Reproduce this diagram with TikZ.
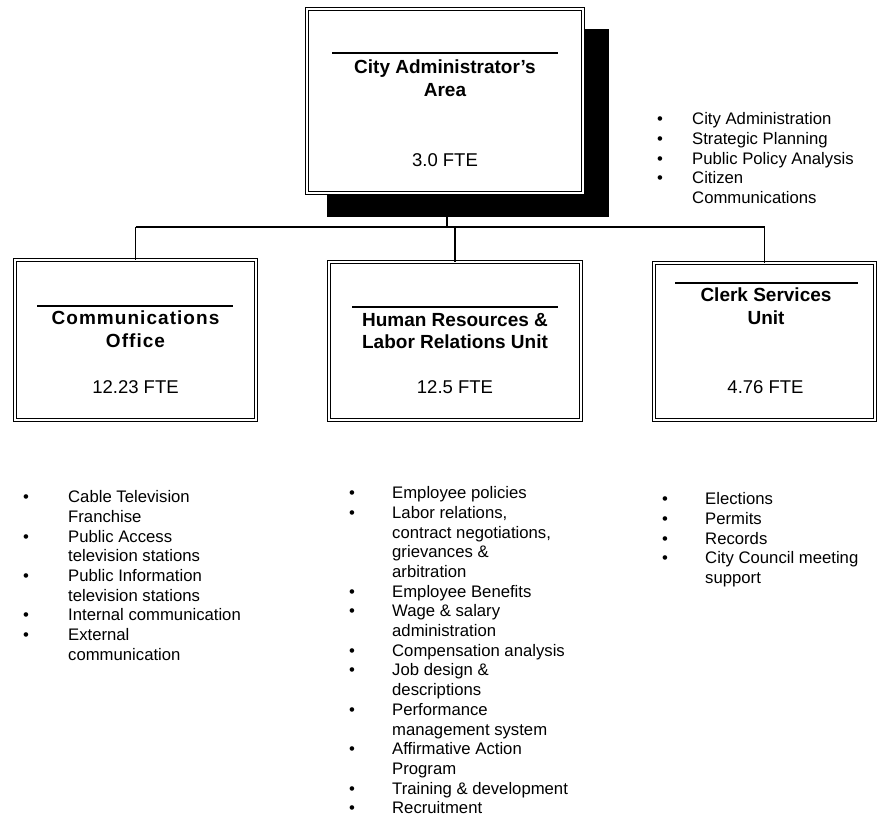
\documentclass[tikz,border=0pt]{standalone}
\usepackage{fontspec}
\setmainfont{Liberation Sans}
\usepackage{tikz}
\usetikzlibrary{positioning,calc}

\begin{document}
\begin{tikzpicture}[x=1pt,y=-1pt,
  unitbox/.style={draw,fill=white,line width=1pt,double,double distance=2.4pt,inner sep=0pt},
  shadowbox/.style={fill=black,inner sep=0pt},
  unitname/.style={font=\fontsize{19}{22.5}\selectfont\bfseries,align=center,inner sep=0pt,anchor=north},
  ftetext/.style={font=\fontsize{18.5}{22}\selectfont,inner sep=0pt},
  duties/.style={font=\fontsize{16.7}{19.7}\selectfont,inner sep=0pt,anchor=north west},
  rulebar/.style={line width=1.2pt},
  link/.style={line width=1.2pt}]
  \fill[white] (0,0) rectangle (878,827);
  \useasboundingbox (0,0) rectangle (878,827);
  % top box and its shadow
  \node[shadowbox,minimum width=282pt,minimum height=188pt] (cityshadow) at (468,122.5) {};
  \node[unitbox,minimum width=275.6pt,minimum height=183.6pt] (city) at (445,101) {};
  \draw[rulebar] (332,53) -- (558,53);
  \node[unitname] (citytitle) at (445,60) {City Administrator's\\Area};
  \node[ftetext] (citycount) at (445,160) {3.0 FTE};
  % three units
  \node[unitbox,minimum width=240.6pt,minimum height=159.6pt] (comm) at (135.5,340) {};
  \node[unitbox,minimum width=251.6pt,minimum height=157.6pt] (hr) at (455,341) {};
  \node[unitbox,minimum width=220.6pt,minimum height=156.6pt] (clerk) at (764.5,341.5) {};
  \draw[rulebar] (37,306) -- (233,306);
  \draw[rulebar] (352,307) -- (558,307);
  \draw[rulebar] (675,283) -- (858,283);
  \node[unitname] (commtitle) at (135.5,311) {\addfontfeature{LetterSpace=5.5}Communications\\\addfontfeature{LetterSpace=5.5}Office};
  \node[unitname] (hrtitle) at (455,313) {Human Resources \&\\Labor Relations Unit};
  \node[unitname] (clerktitle) at (766,288) {Clerk Services\\Unit};
  \node[ftetext] (commcount) at (135.5,387) {12.23 FTE};
  \node[ftetext] (hrcount) at (455,387) {12.5 FTE};
  \node[ftetext] (clerkcount) at (765.5,387) {4.76 FTE};
  % connectors
  \coordinate (bus) at (0,227);
  \draw[link] (comm.north |- bus) -- (clerk.north |- bus);
  \draw[link] ([xshift=2pt]city.south |- cityshadow.south) -- ([xshift=2pt]city.south |- bus);
  \draw[link] (comm.north |- bus) -- (comm.north);
  \draw[link] (hr.north |- bus) -- (hr.north);
  \draw[link] (clerk.north |- bus) -- (clerk.north);
  % duty lists
  \node[duties] (citylist) at (657,110.7) {\begin{tabular}{@{}p{35pt}@{}l@{}}
    \textbullet & City Administration\\
    \textbullet & Strategic Planning\\
    \textbullet & Public Policy Analysis\\
    \textbullet & Citizen\\
                & Communications
  \end{tabular}};
  \node[duties] (commlist) at (23,488.7) {\begin{tabular}{@{}p{45pt}@{}l@{}}
    \textbullet & Cable Television\\
                & Franchise\\
    \textbullet & Public Access\\
                & television stations\\
    \textbullet & Public Information\\
                & television stations\\
    \textbullet & Internal communication\\
    \textbullet & External\\
                & communication
  \end{tabular}};
  \node[duties] (hrlist) at (349,484.7) {\begin{tabular}{@{}p{43pt}@{}l@{}}
    \textbullet & Employee policies\\
    \textbullet & Labor relations,\\
                & contract negotiations,\\
                & grievances \&\\
                & arbitration\\
    \textbullet & Employee Benefits\\
    \textbullet & Wage \& salary\\
                & administration\\
    \textbullet & Compensation analysis\\
    \textbullet & Job design \&\\
                & descriptions\\
    \textbullet & Performance\\
                & management system\\
    \textbullet & Affirmative Action\\
                & Program\\
    \textbullet & Training \& development\\
    \textbullet & Recruitment
  \end{tabular}};
  \node[duties] (clerklist) at (662,490.7) {\begin{tabular}{@{}p{43pt}@{}l@{}}
    \textbullet & Elections\\
    \textbullet & Permits\\
    \textbullet & Records\\
    \textbullet & City Council meeting\\
                & support
  \end{tabular}};
\end{tikzpicture}
\end{document}
